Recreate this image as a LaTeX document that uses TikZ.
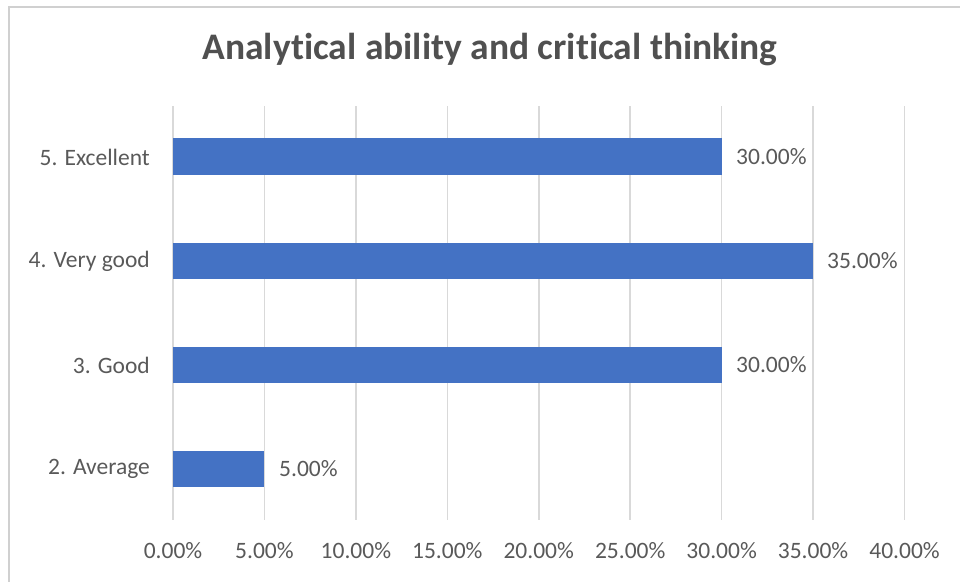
\documentclass[tikz,border=0pt]{standalone}
\usepackage{fontspec}
\setmainfont{Carlito}[Ligatures={NoCommon}]
\usetikzlibrary{positioning}
\definecolor{barblue}{HTML}{4472C4}
\definecolor{gridgray}{HTML}{D9D9D9}
\definecolor{framegray}{HTML}{D0D0D0}
\definecolor{textgray}{HTML}{595959}

\begin{document}
\begin{tikzpicture}[x=1pt,y=-1pt,
    gridline/.style={draw=gridgray,line width=1.6pt},
    bar/.style={fill=barblue,draw=none},
    catlabel/.style={anchor=east,inner sep=0pt,text=textgray,font=\fontsize{23.5}{26}\selectfont},
    vallabel/.style={anchor=west,inner sep=0pt,text=textgray,font=\fontsize{23.5}{26}\selectfont},
    ticklabel/.style={inner sep=0pt,text=textgray,font=\fontsize{23.5}{26}\selectfont}]
    \useasboundingbox (0,0) rectangle (960,581);
    % chart frame
    \draw[draw=framegray,line width=1.5pt] (9,585) -- (9,7) -- (965,7);
    % title
    \node[text=textgray!90!black,font=\fontsize{37.5}{42}\selectfont\bfseries] (title) at (490,50) {Analytical ability and critical thinking};
    % vertical gridlines and axis labels
    \foreach \k/\lab in {0/0.00\%,1/5.00\%,2/10.00\%,3/15.00\%,4/20.00\%,5/25.00\%,6/30.00\%,7/35.00\%,8/40.00\%} {
        \draw[gridline] (173+91.44*\k,106) -- (173+91.44*\k,520);
        \node[ticklabel] (tick\k) at (173+91.44*\k,551) {\lab};
    }
    % bars
    \fill[bar] (173,138) rectangle (721.6,175);
    \fill[bar] (173,243) rectangle (813.1,279);
    \fill[bar] (173,347) rectangle (721.6,383);
    \fill[bar] (173,451) rectangle (264.4,487);
    % category labels
    \node[catlabel] (excellent) at (150,157) {5. Excellent};
    \node[catlabel] (verygood) at (150,261) {4. Very good};
    \node[catlabel] (good) at (150,365) {3. Good};
    \node[catlabel] (average) at (150,469) {2. Average};
    % value labels
    \node[vallabel] (val5) at (736,157) {30.00\%};
    \node[vallabel] (val4) at (827,261) {35.00\%};
    \node[vallabel] (val3) at (736,365) {30.00\%};
    \node[vallabel] (val2) at (279,469) {5.00\%};
\end{tikzpicture}
\end{document}
